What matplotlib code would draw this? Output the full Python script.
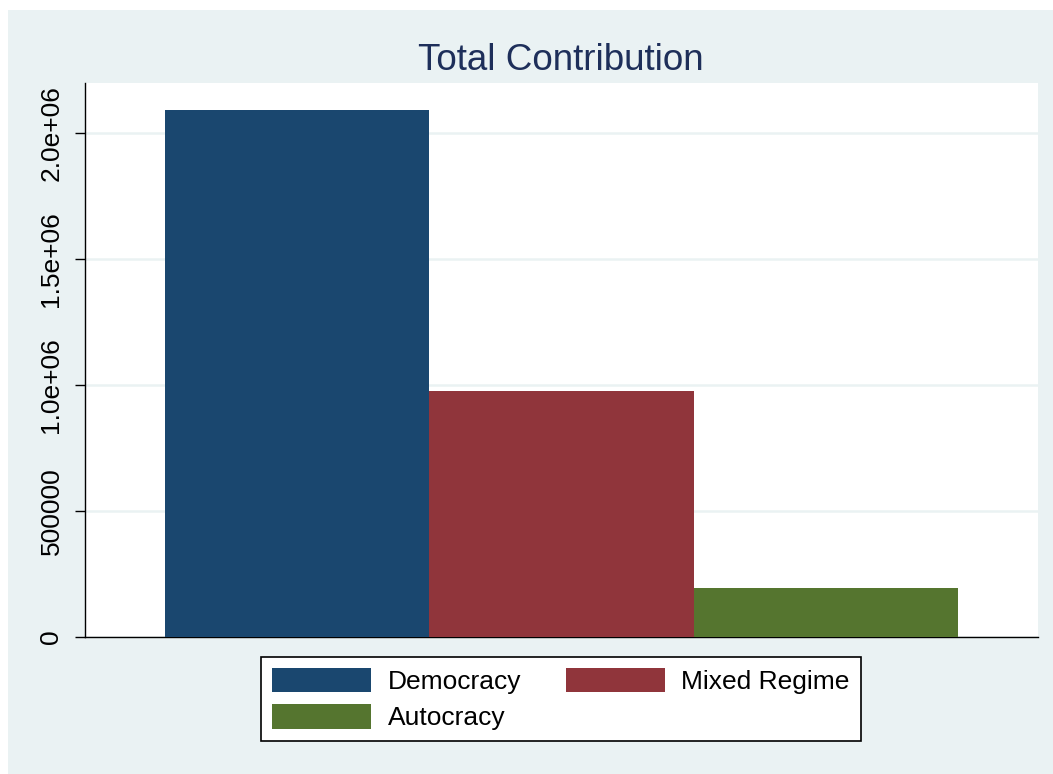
import numpy as np
import matplotlib
matplotlib.use("Agg")
import matplotlib.pyplot as plt
from matplotlib.patches import Rectangle

plt.rcParams['font.family'] = ['Liberation Sans', 'DejaVu Sans']

# data
regimes = ['Democracy', 'Mixed Regime', 'Autocracy']
total_contribution = [2.091e6, 0.976e6, 0.194e6]
colors = ['#1a476f', '#90353b', '#55752f']
yticks = [0, 500000, 1000000, 1500000, 2000000]
ytick_labels = ['0', '500000', '1.0e+06', '1.5e+06', '2.0e+06']

bg = '#eaf2f3'
W, H = 1053, 774
fig = plt.figure(figsize=(W / 100, H / 100), dpi=100)
fig.patch.set_facecolor('white')
# light stata-like background, white strip on top and left
fig.patches.append(Rectangle((8 / W, 0), 1, 1 - 10 / H, transform=fig.transFigure,
                             facecolor=bg, edgecolor='none', zorder=-10))

ax = fig.add_axes([85 / W, 1 - 637 / H, (1038 - 85) / W, (637 - 83) / H])
ax.set_zorder(1)
ax.set_facecolor('white')

x = np.arange(len(regimes))
bars = ax.bar(x, total_contribution, width=1.0, color=colors, zorder=3)

ax.set_xlim(-0.802, 2.802)
ax.set_ylim(0, 2.198e6)
ax.set_yticks(yticks)
ax.set_yticklabels(ytick_labels, rotation=90, va='center', fontsize=19)
ax.set_xticks([])
ax.yaxis.grid(True, color=bg, linewidth=1.8, zorder=0)
ax.set_axisbelow(True)
ax.tick_params(axis='y', length=7.5, width=1.0, pad=8)

for s in ['top', 'right']:
    ax.spines[s].set_visible(False)
ax.spines['left'].set_linewidth(1.0)
ax.spines['bottom'].set_linewidth(1.0)

fig.text(561 / W, 1 - 60 / H, 'Total Contribution', ha='center', va='center',
         fontsize=26.5, color='#1e2f5a')

# row-wise legend order: Democracy, Mixed Regime / Autocracy
order = [0, 2, 1]
leg = ax.legend([bars[i] for i in order], [regimes[i] for i in order],
                ncol=2, loc='center', bbox_to_anchor=(561 / W, 1 - 699 / H),
                bbox_transform=fig.transFigure, fontsize=19, frameon=True,
                fancybox=False, edgecolor='black', facecolor='white', framealpha=1,
                handlelength=3.75, handleheight=1.06, handletextpad=0.62,
                columnspacing=1.7, labelspacing=0.38, borderpad=0.42,
                borderaxespad=0)
leg.get_frame().set_linewidth(1.2)

fig.savefig('out.png', dpi=100, facecolor=fig.get_facecolor())
